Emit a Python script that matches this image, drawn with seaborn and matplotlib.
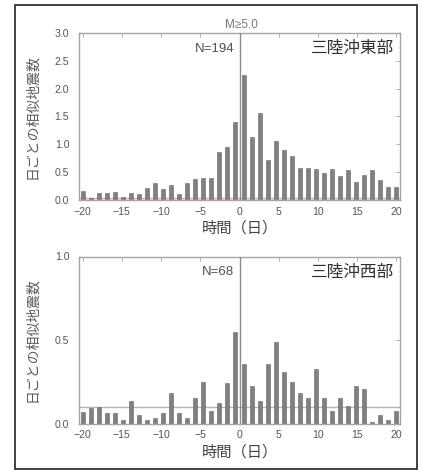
import numpy as np
import pandas as pd
import matplotlib
matplotlib.use("Agg")
import matplotlib.pyplot as plt
from matplotlib.patches import Rectangle
import seaborn as sns

# Daily rate of repeating earthquakes around M>=5.0 events, 40 one-day bins
east_rate = [0.16, 0.04, 0.13, 0.13, 0.15, 0.06, 0.12, 0.11, 0.21, 0.30,
             0.20, 0.27, 0.10, 0.31, 0.37, 0.40, 0.40, 0.86, 0.96, 1.40,
             2.25, 1.13, 1.57, 0.72, 1.06, 0.90, 0.79, 0.58, 0.58, 0.55,
             0.48, 0.56, 0.43, 0.53, 0.33, 0.45, 0.53, 0.36, 0.24, 0.24]
west_rate = [0.067, 0.090, 0.100, 0.063, 0.063, 0.020, 0.137, 0.048, 0.020, 0.034,
             0.063, 0.180, 0.063, 0.034, 0.150, 0.250, 0.073, 0.120, 0.240, 0.550,
             0.357, 0.222, 0.133, 0.357, 0.490, 0.310, 0.250, 0.180, 0.150, 0.325,
             0.150, 0.073, 0.150, 0.107, 0.222, 0.208, 0.008, 0.048, 0.020, 0.073]
east_background = 0.03
west_background = 0.10
east_n = 194
west_n = 68
east_region = "三陸沖東部"
west_region = "三陸沖西部"
magnitude_label = "M≥5.0"
x_ticks = [-20, -15, -10, -5, 0, 5, 10, 15, 20]
east_yticks = [0.0, 0.5, 1.0, 1.5, 2.0, 2.5, 3.0]
west_yticks = [0.0, 0.5, 1.0]
xlabel = "時間（日）"
ylabel = "日ごとの相似地震数"

sns.set_theme(style="white")
plt.rcParams["font.family"] = ["Liberation Sans", "Noto Sans CJK JP", "DejaVu Sans"]

W, H = 425, 470
fig = plt.figure(figsize=(W / 100, H / 100), dpi=100)
fig.patch.set_facecolor("white")

# outer frame
fig.patches.append(Rectangle((15 / W, 1 / H), (417 - 15) / W, (465 - 1) / H,
                             transform=fig.transFigure, fill=False,
                             edgecolor="#222222", linewidth=1.2))

ax_left = 79 / W
ax_width = (400 - 79) / W
ax_top = fig.add_axes([ax_left, 1 - 200 / H, ax_width, (200 - 33) / H])
ax_bot = fig.add_axes([ax_left, 1 - 423.5 / H, ax_width, (423.5 - 256.5) / H])

spine_col = "#a5a5a5"
text_col = "#555555"
bar_col = "#808080"
edge_col = "#666666"


def panel(ax, rate, background, n, region, yticks, ymax):
    centers = np.linspace(x_ticks[0], x_ticks[-1], len(rate))
    df = pd.DataFrame({"day": centers, "rate": rate})
    ax.axhline(background, color="#e0a4a0", linewidth=1.0, zorder=1)
    sns.barplot(data=df, x="day", y="rate", native_scale=True, ax=ax,
                color=bar_col, edgecolor=edge_col, linewidth=0.4,
                width=0.5, saturation=1, zorder=2)
    ax.axvline(0, color="#8c8c8c", linewidth=1.0, zorder=3)
    ax.set_xlim(-20.47, 20.47)
    ax.set_ylim(0, ymax)
    ax.set_xticks(x_ticks)
    ax.set_xticklabels([str(t) if t >= 0 else "\u2212" + str(-t) for t in x_ticks])
    ax.set_yticks(yticks)
    ax.set_yticklabels([f"{t:.1f}" for t in yticks])
    ax.tick_params(axis="both", which="major", direction="in", length=3,
                   width=0.6, color=spine_col, labelsize=7.6,
                   labelcolor=text_col, top=True, right=True)
    ax.tick_params(axis="x", pad=5)
    ax.tick_params(axis="y", pad=7)
    for s in ax.spines.values():
        s.set_color(spine_col)
        s.set_linewidth(1.0)
    ax.set_xlabel(xlabel, fontsize=11, color="#444444", labelpad=3)
    ax.set_ylabel(ylabel, fontsize=10, color="#5a5a5a", labelpad=11)
    ax.text(-0.7, ymax * 0.905, f"N={n}", ha="right", va="center",
            fontsize=9.5, color="#505050")
    ax.text(19.7, ymax * 0.905, region, ha="right", va="center",
            fontsize=12, color="#303030")
    ax.grid(False)


panel(ax_top, east_rate, east_background, east_n, east_region, east_yticks, 3.0)
panel(ax_bot, west_rate, west_background, west_n, west_region, west_yticks, 1.0)

ax_top.text(0.3, 3.03, magnitude_label, ha="center", va="bottom",
            fontsize=8.5, color="#777777")

fig.savefig("out.png", dpi=100, facecolor="white")
